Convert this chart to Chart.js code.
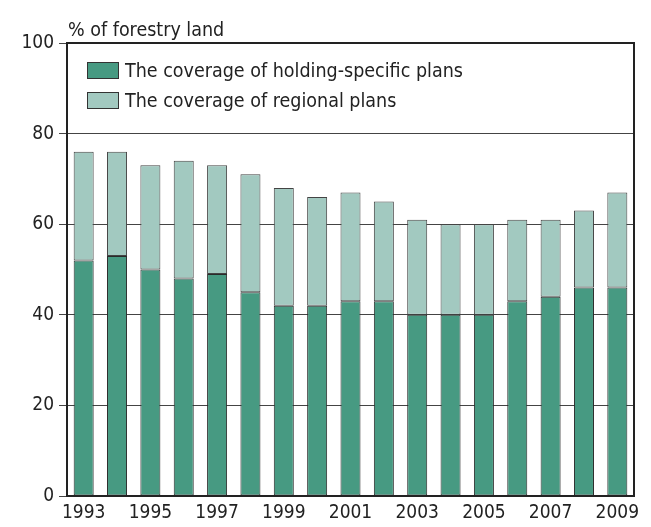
<!DOCTYPE html>
<html>
<head>
<meta charset="utf-8">
<script src="https://cdn.jsdelivr.net/npm/chart.js@4/dist/chart.umd.min.js"></script>
<style>
  html, body { margin: 0; padding: 0; background: #fff; }
  #wrap { width: 651px; height: 527px; position: relative; }
</style>
</head>
<body>
<div id="wrap"><canvas id="forestChart"></canvas></div>
<script>
// Forestry land covered by forest management plans, % of forestry land
const years = ['1993', '1994', '1995', '1996', '1997', '1998', '1999', '2000', '2001',
               '2002', '2003', '2004', '2005', '2006', '2007', '2008', '2009'];
const holdingPlans = [52, 53, 50, 48, 49, 45, 42, 42, 43, 43, 40, 40, 40, 43, 44, 46, 46];
const regionalPlans = [24, 23, 23, 26, 24, 26, 26, 24, 24, 22, 21, 20, 20, 18, 17, 17, 21];
const yTicks = [0, 20, 40, 60, 80, 100];

const FONT = "'Liberation Sans Narrow', 'DejaVu Sans Condensed', sans-serif";
const TEXT = '#222';

// draws the frame, the unit label and the legend inside the plot
const extras = {
    id: 'extras',
    afterDatasetsDraw(chart) {
        const ctx = chart.ctx;
        const a = chart.chartArea;
        ctx.save();
        ctx.strokeStyle = '#222';
        ctx.lineWidth = 2;
        ctx.strokeRect(a.left, a.top, a.right - a.left, a.bottom - a.top);

        ctx.fillStyle = TEXT;
        ctx.font = '19.5px ' + FONT;
        ctx.textBaseline = 'alphabetic';
        ctx.fillText('% of forestry land', a.left + 1, a.top - 7);

        chart.data.datasets.forEach((ds, i) => {
            const y = a.top + 19 + i * 30;
            ctx.fillStyle = ds.backgroundColor;
            ctx.fillRect(a.left + 20, y, 31, 16);
            ctx.strokeStyle = '#333';
            ctx.lineWidth = 1;
            ctx.strokeRect(a.left + 20.5, y + 0.5, 31, 16);
            ctx.fillStyle = TEXT;
            ctx.fillText(ds.label, a.left + 58, y + 15);
        });
        ctx.restore();
    }
};

new Chart(document.getElementById('forestChart'), {
    type: 'bar',
    data: {
        labels: years,
        datasets: [{
            label: 'The coverage of holding-specific plans',
            data: holdingPlans,
            backgroundColor: '#479a82',
            borderColor: '#2a2a2a',
            borderWidth: 1,
            borderSkipped: false
        }, {
            label: 'The coverage of regional plans',
            data: regionalPlans,
            backgroundColor: '#a2c9c0',
            borderColor: '#444',
            borderWidth: 1,
            borderSkipped: false
        }]
    },
    options: {
        responsive: true,
        maintainAspectRatio: false,
        animation: false,
        datasets: {
            bar: { barPercentage: 0.6, categoryPercentage: 1 }
        },
        layout: { padding: { top: 43, right: 17, left: 0, bottom: 0 } },
        plugins: {
            legend: { display: false },
            tooltip: { enabled: false }
        },
        scales: {
            x: {
                stacked: true,
                grid: { display: false, drawTicks: false },
                border: { color: '#222', width: 2 },
                ticks: {
                    autoSkip: false,
                    maxRotation: 0,
                    color: TEXT,
                    padding: 6,
                    font: { family: FONT, size: 19 },
                    callback: function(v, i) { return i % 2 === 0 ? years[i] : ''; }
                },
                afterFit(scale) { scale.height = 31; }
            },
            y: {
                stacked: true,
                min: 0,
                max: 100,
                afterBuildTicks(scale) { scale.ticks = yTicks.map(v => ({ value: v })); },
                grid: { color: '#444', lineWidth: 1, tickLength: 8 },
                border: { color: '#222', width: 2 },
                ticks: {
                    color: TEXT,
                    padding: 5,
                    font: { family: FONT, size: 19 }
                },
                afterFit(scale) { scale.width = 67; }
            }
        }
    },
    plugins: [extras]
});
</script>
</body>
</html>
